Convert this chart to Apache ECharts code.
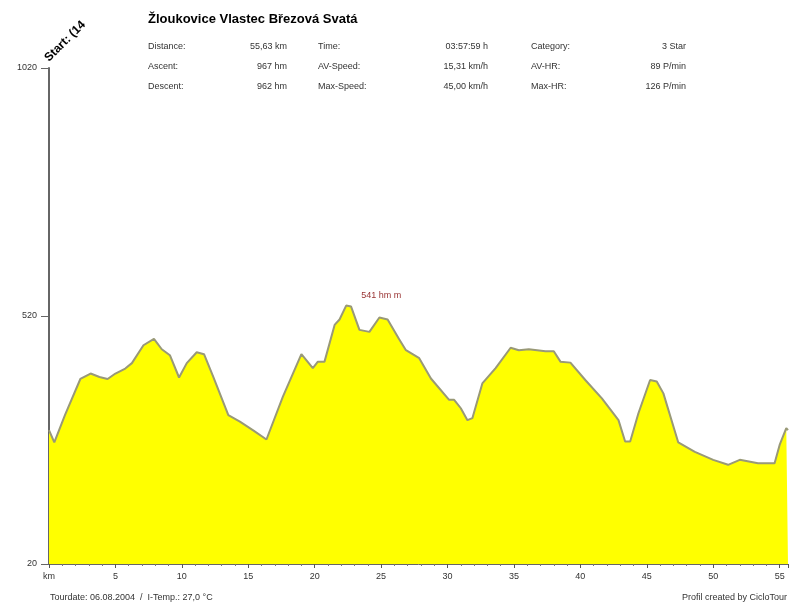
<!DOCTYPE html>
<html>
<head>
<meta charset="utf-8">
<script src="https://cdn.jsdelivr.net/npm/echarts@6/dist/echarts.min.js"></script>
<style>
html,body{margin:0;padding:0;background:#fff;}
#c{width:791px;height:607px;}
</style>
</head>
<body>
<div id="c"></div>
<script>
// Distance along the route (km)
var km = [0, 0.4, 1.2, 2.36, 3.13, 3.8, 4.41, 5, 5.74, 6.24, 7.11, 7.9, 8.49, 9.1, 9.79, 10.37, 11.12, 11.67, 12.36, 13.5, 14.37, 15.4, 16.37, 17.6, 19, 19.86, 20.24, 20.74, 21.5, 21.87, 22.37, 22.74, 23.37, 24.12, 24.87, 25.49, 26.36, 26.87, 27.87, 28.75, 30.12, 30.5, 31, 31.5, 31.87, 32.62, 33.62, 34.75, 35.37, 36.12, 37.37, 38, 38.5, 39.25, 40.37, 41.62, 42.87, 43.37, 43.75, 44.37, 45.25, 45.75, 46.25, 47.37, 48.62, 50, 51.12, 52, 53.37, 54.62, 55, 55.5, 55.63];
// Elevation (m)
var elevation = [290, 265, 320, 393, 404, 397, 393, 404, 414, 425, 461, 474, 453, 441, 396, 425, 447, 443, 398, 320, 307, 289, 271, 357, 443, 415, 428, 428, 502, 513, 541, 539, 492, 488, 517, 513, 473, 451, 435, 394, 351, 351, 334, 310, 314, 384, 415, 456, 451, 453, 449, 449, 428, 426, 391, 354, 310, 267, 267, 324, 391, 388, 364, 265, 246, 230, 220, 230, 223, 223, 260, 294, 290];
var yTicks = [20, 520, 1020];
var peak = [22.37, 541];
var peakLabel = '541 hm m';
var title = 'Žloukovice Vlastec Březová Svatá';
var statLabels1 = ['Distance:', 'Ascent:', 'Descent:'];
var statValues1 = ['55,63 km', '967 hm', '962 hm'];
var statLabels2 = ['Time:', 'AV-Speed:', 'Max-Speed:'];
var statValues2 = ['03:57:59 h', '15,31 km/h', '45,00 km/h'];
var statLabels3 = ['Category:', 'AV-HR:', 'Max-HR:'];
var statValues3 = ['3 Star', '89 P/min', '126 P/min'];
var startText = 'Start: (14';
var footLeft = 'Tourdate: 06.08.2004  /  I-Temp.: 27,0 °C';
var footRight = 'Profil created by CicloTour';

var FONT = '"Liberation Sans", Arial, sans-serif';
var data = km.map(function (k, i) { return [k, elevation[i]]; });

var rowsY = [47, 67, 87];
var graphics = [
  { type: 'text', left: 148, top: 13, style: { text: title, font: 'bold 13px ' + FONT, fill: '#000' } }
];
function addCol(labels, values, lx, vx) {
  labels.forEach(function (t, i) {
    graphics.push({ type: 'text', x: lx, y: rowsY[i], style: { text: t, font: '9px ' + FONT, fill: '#333', textVerticalAlign: 'middle' } });
    graphics.push({ type: 'text', x: vx, y: rowsY[i], style: { text: values[i], font: '9px ' + FONT, fill: '#333', textAlign: 'right', textVerticalAlign: 'middle' } });
  });
}
addCol(statLabels1, statValues1, 148, 287);
addCol(statLabels2, statValues2, 318, 488);
addCol(statLabels3, statValues3, 531, 686);
graphics.push({ type: 'text', x: 51, y: 64, rotation: Math.PI / 4, style: { text: startText, font: 'bold 12px ' + FONT, fill: '#000', textVerticalAlign: 'bottom' } });
graphics.push({ type: 'text', x: 50, y: 598, style: { text: footLeft, font: '9px ' + FONT, fill: '#333', textVerticalAlign: 'middle' } });
graphics.push({ type: 'text', x: 787, y: 598, style: { text: footRight, font: '9px ' + FONT, fill: '#333', textAlign: 'right', textVerticalAlign: 'middle' } });

var chart = echarts.init(document.getElementById('c'), null, { renderer: 'canvas' });
chart.setOption({
  animation: false,
  backgroundColor: '#fff',
  grid: { left: 49, right: 3, top: 68, bottom: 43 },
  xAxis: {
    type: 'value', min: 0, max: 55.63, interval: 5,
    axisLine: { lineStyle: { color: '#666', width: 1 } },
    axisTick: { length: 4, lineStyle: { color: '#555' } },
    minorTick: { show: true, splitNumber: 5, length: 2, lineStyle: { color: '#777' } },
    splitLine: { show: false },
    axisLabel: {
      color: '#333', fontSize: 9, fontFamily: FONT, margin: 8, showMaxLabel: false,
      formatter: function (v) { return v === 0 ? 'km' : String(v); }
    }
  },
  yAxis: {
    type: 'value', min: yTicks[0], max: yTicks[yTicks.length - 1], interval: 500,
    axisLine: { show: true, lineStyle: { color: '#666', width: 2 } },
    axisTick: { show: true, length: 8, lineStyle: { color: '#666' } },
    splitLine: { show: false },
    axisLabel: { color: '#333', fontSize: 9, fontFamily: FONT, margin: 12, formatter: function (v) { return String(v); } }
  },
  graphic: graphics,
  series: [{
    type: 'line',
    data: data,
    symbol: 'none',
    smooth: false,
    lineStyle: { color: '#999977', width: 2 },
    areaStyle: { color: '#ffff00', opacity: 1 },
    z: 2,
    markPoint: {
      symbol: 'circle', symbolSize: 0,
      data: [{ coord: peak }],
      label: { show: true, position: 'inside', offset: [35, -10], formatter: peakLabel, color: '#993333', fontSize: 9, fontFamily: FONT }
    }
  }]
});
</script>
</body>
</html>
